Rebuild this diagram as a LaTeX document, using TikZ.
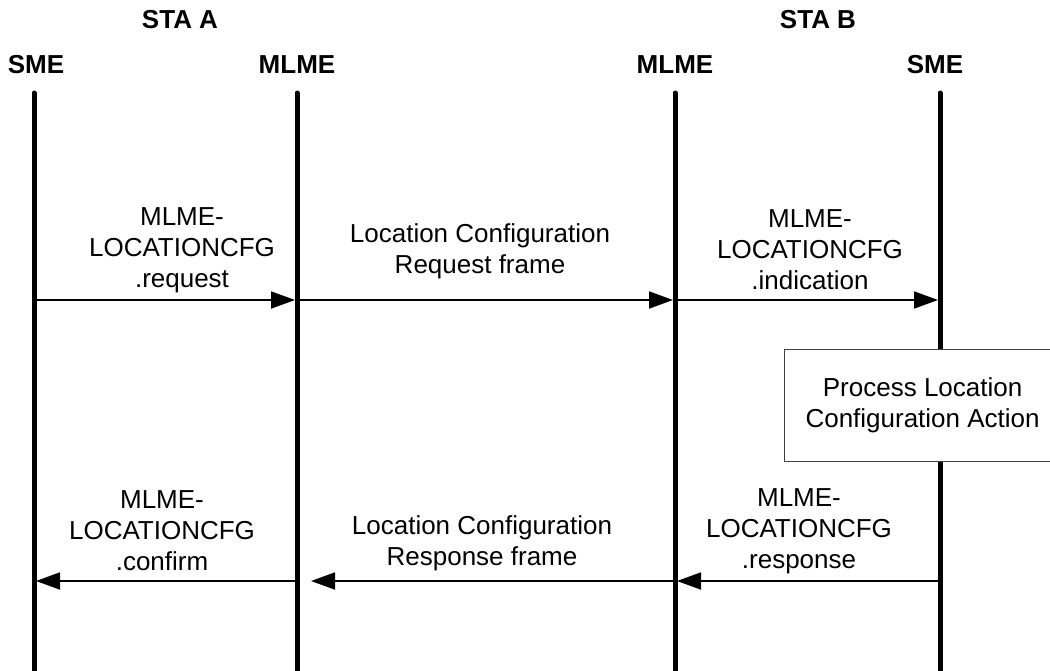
\documentclass[tikz,border=0pt]{standalone}
\usepackage{fontspec}
\setmainfont{Liberation Sans}
\usetikzlibrary{arrows.meta}
\begin{document}
\begin{tikzpicture}[x=0.5pt,y=-0.5pt,
  lifeline/.style={line width=2.5pt, line cap=round},
  msg/.style={line width=0.9pt, -{Triangle[length=12pt,width=8.5pt]}, shorten >=1pt},
  head/.style={font=\fontsize{13}{15}\selectfont\bfseries, inner sep=0},
  lbl/.style={font=\fontsize{13}{15.5}\selectfont, align=center, inner sep=0},
  procbox/.style={draw=black!75, line width=0.6pt, fill=white, inner sep=0,
    font=\fontsize{13}{15.5}\selectfont, align=center,
    minimum width=138pt, minimum height=56pt, anchor=north west}]
\useasboundingbox (0,0) rectangle (1050,670);
\clip (0,0) rectangle (1050,670);
% headings
\node[head] (staA) at (180,20) {STA A};
\node[head] (staB) at (818,20) {STA B};
\node[head] (smeA) at (36,65) {SME};
\node[head] (mlmeA) at (297,65) {MLME};
\node[head] (mlmeB) at (675,65) {MLME};
\node[head] (smeB) at (935,65) {SME};
% lifeline coordinates
\coordinate (aT) at (34,93);   \coordinate (aB) at (34,680);
\coordinate (bT) at (297,93);  \coordinate (bB) at (297,680);
\coordinate (cT) at (675,93);  \coordinate (cB) at (675,680);
\coordinate (dT) at (940,93);  \coordinate (dB) at (940,680);
\draw[lifeline] (aT) -- (aB);
\draw[lifeline] (bT) -- (bB);
\draw[lifeline] (cT) -- (cB);
\draw[lifeline] (dT) -- (dB);
% message points
\coordinate (a1) at (34,300);  \coordinate (b1) at (297,300);
\coordinate (c1) at (675,300); \coordinate (d1) at (940,300);
\coordinate (a2) at (34,581);  \coordinate (b2) at (297,581);
\coordinate (c2) at (675,581); \coordinate (d2) at (940,581);
\coordinate (b2g) at (309,581);
\draw[msg] (a1) -- (b1);
\draw[msg] (b1) -- (c1);
\draw[msg] (c1) -- (d1);
\draw[msg] (d2) -- (c2);
\draw[msg] (c2) -- (b2g);
\draw[msg] (b2) -- (a2);
% labels
\node[lbl] (lreq) at (182,250) {MLME-\\LOCATIONCFG\\.request};
\node[lbl] (lreqf) at (480,251) {Location Configuration\\Request frame};
\node[lbl] (lind) at (810,250) {MLME-\\LOCATIONCFG\\.indication};
\node[lbl] (lconf) at (162,531) {MLME-\\LOCATIONCFG\\.confirm};
\node[lbl] (lrespf) at (482,543) {Location Configuration\\Response frame};
\node[lbl] (lresp) at (799,531) {MLME-\\LOCATIONCFG\\.response};
% process box
\node[procbox] (proc) at (784,349) {Process Location\\Configuration Action};
\end{tikzpicture}
\end{document}
